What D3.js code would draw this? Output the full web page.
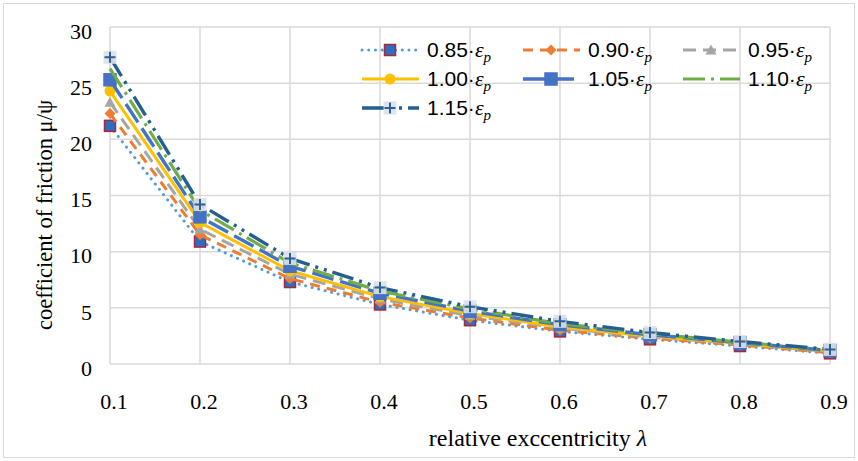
<!DOCTYPE html>
<html>
<head>
<meta charset="utf-8">
<script src="https://cdn.jsdelivr.net/npm/d3@7"></script>
<style>
  html, body { margin: 0; padding: 0; background: #fff; }
  svg { display: block; }
</style>
</head>
<body>
<svg id="chart" width="858" height="461"></svg>
<script>
// ---- data ----
const lambdaValues = [0.1, 0.2, 0.3, 0.4, 0.5, 0.6, 0.7, 0.8, 0.9];
const xTickLabels = ["0.1", "0.2", "0.3", "0.4", "0.5", "0.6", "0.7", "0.8", "0.9"];
const yTickValues = [0, 5, 10, 15, 20, 25, 30];
const seriesNames = ["0.85", "0.90", "0.95", "1.00", "1.05", "1.10", "1.15"];
const s085 = [21.2, 10.9, 7.3, 5.3, 3.9, 2.9, 2.2, 1.6, 0.95];
const s090 = [22.3, 11.5, 7.6, 5.5, 4.1, 3.0, 2.3, 1.7, 1.0];
const s095 = [23.3, 12.0, 8.0, 5.8, 4.3, 3.2, 2.4, 1.8, 1.1];
const s100 = [24.3, 12.6, 8.3, 6.0, 4.5, 3.3, 2.5, 1.85, 1.15];
const s105 = [25.3, 13.1, 8.7, 6.3, 4.7, 3.5, 2.6, 1.9, 1.2];
const s110 = [26.3, 13.7, 9.0, 6.5, 4.9, 3.6, 2.7, 1.95, 1.25];
const s115 = [27.3, 14.2, 9.4, 6.8, 5.1, 3.8, 2.8, 2.0, 1.3];

const seriesValues = [s085, s090, s095, s100, s105, s110, s115];
const styles = [
  { color: "#5B9BD5", width: 3, dash: "0.1,6.6", cap: "round", marker: "square", mfill: "#2E6DBF", mstroke: "#A8283A", msize: 11 },
  { color: "#ED7D31", width: 3, dash: "10,7", cap: "butt", marker: "diamond", mfill: "#ED7D31", mstroke: "#ED7D31", msize: 11 },
  { color: "#A5A5A5", width: 3, dash: "13,7", cap: "butt", marker: "triangle", mfill: "#A5A5A5", mstroke: "#A5A5A5", msize: 11 },
  { color: "#FFC000", width: 3, dash: null, cap: "butt", marker: "circle", mfill: "#FFC000", mstroke: "#FFC000", msize: 11 },
  { color: "#4472C4", width: 3.4, dash: "22,7", cap: "butt", marker: "square", mfill: "#4472C4", mstroke: "#4472C4", msize: 12 },
  { color: "#70AD47", width: 3.2, dash: "22,6,3,6", cap: "butt", marker: "none", mfill: "#70AD47", mstroke: "#70AD47", msize: 10 },
  { color: "#255E91", width: 3.4, dash: "22,6,3,6,3,6", cap: "butt", marker: "plus", mfill: "#DCE1E8", mstroke: "#2F5F94", msize: 13 }
];

// ---- layout ----
const svg = d3.select("#chart");
const W = 858, H = 461;
const x = d3.scaleLinear().domain([0.1, 0.9]).range([110, 830]);
const y = d3.scaleLinear().domain([0, 30]).range([364, 27]);
const serif = "Liberation Serif, Times New Roman, serif";

// chart border
svg.append("rect").attr("x", 3.5).attr("y", 3.5).attr("width", W - 7).attr("height", H - 7)
  .attr("fill", "#fff").attr("stroke", "#D9D9D9").attr("stroke-width", 1);

const grid = "#D9D9D9";
svg.append("g").selectAll("line").data(yTickValues).join("line")
  .attr("x1", x(0.1)).attr("x2", x(0.9))
  .attr("y1", d => y(d)).attr("y2", d => y(d))
  .attr("stroke", grid).attr("stroke-width", 1.5);
svg.append("g").selectAll("line").data(lambdaValues).join("line")
  .attr("x1", d => x(d)).attr("x2", d => x(d))
  .attr("y1", y(30)).attr("y2", y(0))
  .attr("stroke", grid).attr("stroke-width", 1.5);

// y tick labels
svg.append("g").selectAll("text").data(yTickValues).join("text")
  .attr("x", 92).attr("y", d => y(d) + 4).attr("dy", "0.35em")
  .attr("text-anchor", "end")
  .attr("font-family", serif).attr("font-size", 22)
  .attr("fill", "#000").text(d => d);

// x tick labels
svg.append("g").selectAll("text").data(lambdaValues).join("text")
  .attr("x", d => x(d) + 4).attr("y", 401).attr("dy", "0.35em")
  .attr("text-anchor", "middle")
  .attr("font-family", serif).attr("font-size", 22)
  .attr("fill", "#000").text((d, i) => xTickLabels[i]);

// axis titles
svg.append("text").attr("x", 538).attr("y", 438).attr("dy", "0.35em")
  .attr("text-anchor", "middle")
  .attr("font-family", serif).attr("font-size", 24)
  .attr("fill", "#000")
  .call(t => { t.append("tspan").text("relative exccentricity "); t.append("tspan").attr("font-style", "italic").text("λ"); });

svg.append("text").attr("transform", "translate(44,215) rotate(-90)").attr("dy", "0.35em")
  .attr("text-anchor", "middle")
  .attr("font-family", serif).attr("font-size", 22.5)
  .attr("fill", "#000").text("coefficient of friction μ/ψ");

function drawMarker(g, st, cx, cy) {
  const s = st.msize, h = s / 2;
  if (st.marker === "square") {
    g.append("rect").attr("x", cx - h).attr("y", cy - h).attr("width", s).attr("height", s)
      .attr("fill", st.mfill).attr("stroke", st.mstroke).attr("stroke-width", 1.5);
  } else if (st.marker === "diamond") {
    g.append("path").attr("d", `M${cx},${cy - h}L${cx + h},${cy}L${cx},${cy + h}L${cx - h},${cy}Z`)
      .attr("fill", st.mfill);
  } else if (st.marker === "triangle") {
    g.append("path").attr("d", `M${cx},${cy - h}L${cx + h},${cy + h * 0.8}L${cx - h},${cy + h * 0.8}Z`)
      .attr("fill", st.mfill);
  } else if (st.marker === "circle") {
    g.append("circle").attr("cx", cx).attr("cy", cy).attr("r", h).attr("fill", st.mfill);
  } else if (st.marker === "plus") {
    g.append("rect").attr("x", cx - h).attr("y", cy - h).attr("width", s).attr("height", s)
      .attr("fill", st.mfill).attr("opacity", 0.9);
    g.append("path").attr("d", `M${cx - h + 1},${cy}H${cx + h - 1}M${cx},${cy - h + 1}V${cy + h - 1}`)
      .attr("stroke", st.mstroke).attr("stroke-width", 2).attr("fill", "none");
  }
}

const line = d3.line().x((d, i) => x(lambdaValues[i])).y(d => y(d));
const plot = svg.append("g");
seriesValues.forEach((vals, k) => {
  const st = styles[k];
  const g = plot.append("g");
  g.append("path").datum(vals).attr("d", line)
    .attr("fill", "none").attr("stroke", st.color).attr("stroke-width", st.width)
    .attr("stroke-linecap", st.cap).attr("stroke-linejoin", "round")
    .attr("stroke-dasharray", st.dash);
  vals.forEach((v, i) => drawMarker(g, st, x(lambdaValues[i]), y(v)));
});

// legend
const legCols = [362, 523, 683];
const legRows = [50, 79, 108];
const legend = svg.append("g");
seriesNames.forEach((name, k) => {
  const st = styles[k];
  const cx0 = legCols[k % 3], cy = legRows[Math.floor(k / 3)];
  const g = legend.append("g");
  g.append("line").attr("x1", cx0).attr("x2", cx0 + 57).attr("y1", cy).attr("y2", cy)
    .attr("stroke", st.color).attr("stroke-width", st.width)
    .attr("stroke-linecap", st.cap).attr("stroke-dasharray", st.dash);
  drawMarker(g, st, cx0 + 28, cy);
  const t = g.append("text").attr("x", cx0 + 65).attr("y", cy).attr("dy", "0.35em")
    .attr("font-family", "Liberation Sans, Arial, sans-serif").attr("font-size", 21).attr("fill", "#000");
  t.append("tspan").text(name + "·");
  t.append("tspan").attr("font-family", serif).attr("font-style", "italic").attr("font-size", 22).text("ε");
  t.append("tspan").attr("font-family", serif).attr("font-style", "italic").attr("font-size", 15).attr("dy", 5).text("p");
});
</script>
</body>
</html>
